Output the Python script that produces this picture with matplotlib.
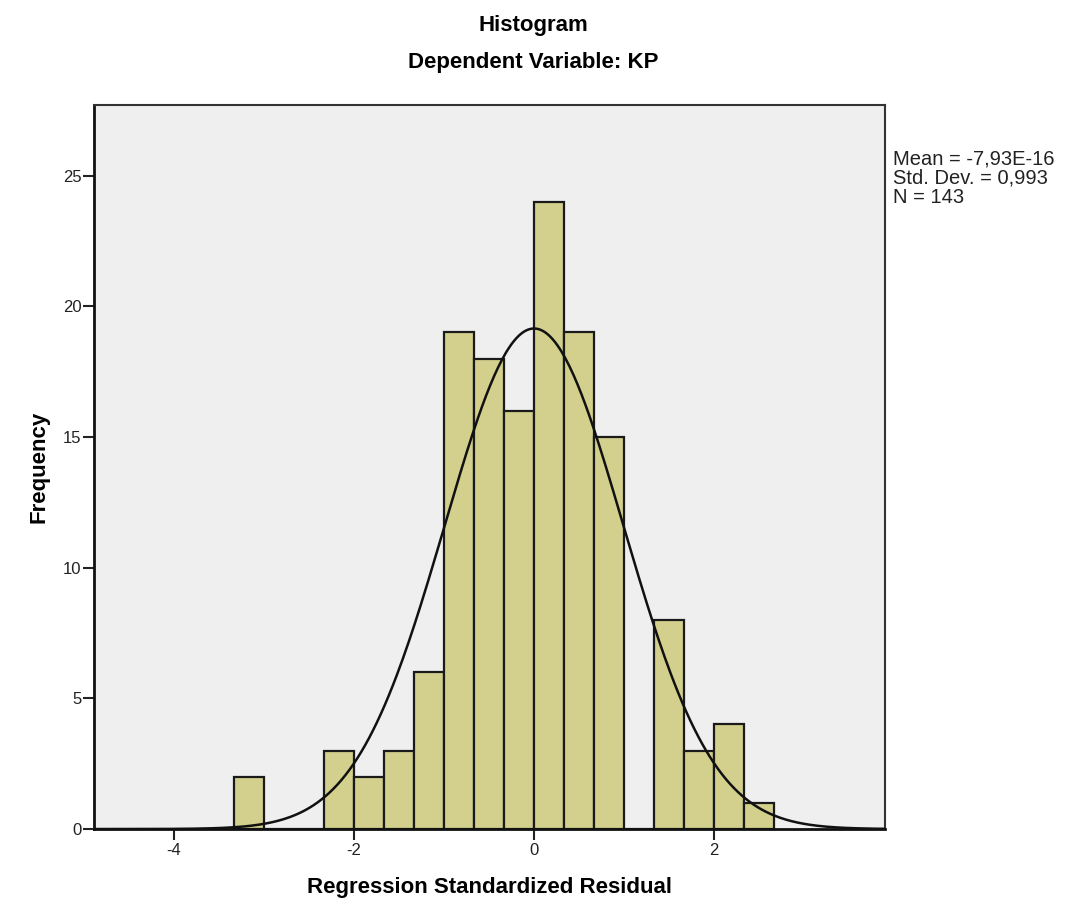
import numpy as np
import matplotlib
matplotlib.use("Agg")
import matplotlib.pyplot as plt

plt.rcParams['font.family'] = ['Liberation Sans', 'DejaVu Sans']

# bin edges in thirds, from -10/3 to 8/3
bin_start = -10
bin_count = 18
counts = [2, 0, 0, 3, 2, 3, 6, 19, 18, 16, 24, 19, 15, 0, 8, 3, 4, 1]
mean = -7.93e-16
std = 0.993
n = 143

edges = [(bin_start + i) / 3 for i in range(bin_count + 1)]
width = 1 / 3

fig = plt.figure(figsize=(10.66, 9.19), dpi=100)
fig.patch.set_facecolor("white")
ax = fig.add_axes([0.0882, 0.0979, 0.7420, 0.7878])
ax.set_facecolor("#efefef")

ax.bar(edges[:-1], counts, width=width, align="edge", color="#d3d08e",
       edgecolor="#1a1a1a", linewidth=1.6, zorder=2)

# normal curve scaled to counts
xs = np.linspace(-4.9, 3.9, 400)
ys = n * width / (std * np.sqrt(2 * np.pi)) * np.exp(-0.5 * ((xs - mean) / std) ** 2)
ax.plot(xs, ys, color="#111111", linewidth=1.8, zorder=3)

ax.set_xlim(-4.89, 3.90)
ax.set_ylim(0, 27.7)
ax.set_xticks([-4, -2, 0, 2])
ax.set_xticklabels(["-4", "-2", "0", "2"])
ax.set_yticks([0, 5, 10, 15, 20, 25])
ax.tick_params(axis="both", direction="out", length=8, width=1.5,
               labelsize=12, colors="#222222")
ax.tick_params(axis="y", pad=1)
ax.tick_params(axis="x", pad=2)
for side in ["left", "bottom"]:
    ax.spines[side].set_linewidth(2)
    ax.spines[side].set_color("#111111")
for side in ["top", "right"]:
    ax.spines[side].set_linewidth(1.5)
    ax.spines[side].set_color("#333333")

ax.set_xlabel("Regression Standardized Residual", fontsize=16, fontweight="bold",
              labelpad=14)
ax.set_ylabel("Frequency", fontsize=16, fontweight="bold", labelpad=10)

fig.text(0.500, 0.972, "Histogram", ha="center", va="center",
         fontsize=16, fontweight="bold")
fig.text(0.500, 0.932, "Dependent Variable: KP", ha="center", va="center",
         fontsize=16, fontweight="bold")

fig.text(0.838, 0.806, "Mean = -7,93E-16\nStd. Dev. = 0,993\nN = " + str(n),
         ha="left", va="center", fontsize=14.5, linespacing=1.0,
         color="#222222")

fig.savefig("out.png", dpi=100, facecolor="white")
